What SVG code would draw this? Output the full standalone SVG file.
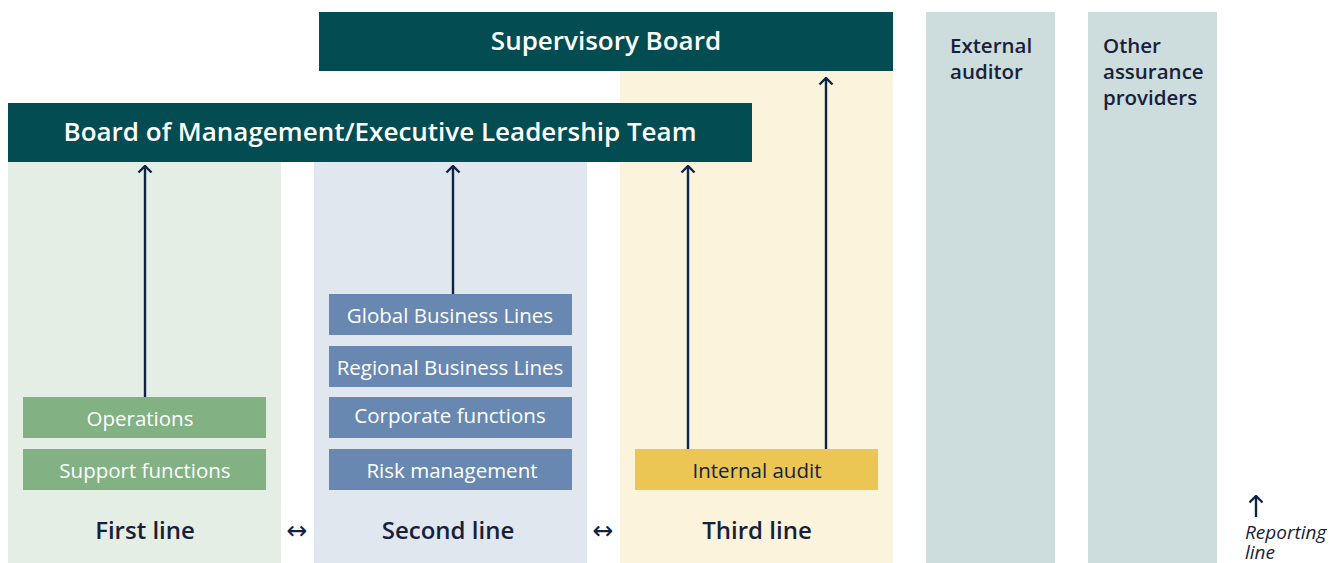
<svg xmlns="http://www.w3.org/2000/svg" width="1341" height="563" viewBox="0 0 1341 563">
<defs>
<marker id="ah" markerWidth="10" markerHeight="16" refX="8.5" refY="8" orient="auto" markerUnits="userSpaceOnUse" viewBox="0 0 10 16">
<path d="M2,1.5 L8.5,8 L2,14.5" fill="none" stroke="#0f2347" stroke-width="2.4"/>
</marker>
<style>
text{font-family:"Open Sans","Noto Sans",sans-serif}
.board{fill:#024c52}
.bt{fill:#fff;font-size:26px;font-weight:600;text-anchor:middle}
.g{fill:#82b183}
.b{fill:#6888b2}
.y{fill:#ecc655}
.bx{fill:#fff;font-size:20.5px;text-anchor:middle}
.lab{fill:#17213a;font-size:24px;font-weight:600;text-anchor:middle}
.side{fill:#cddddd}
.st{fill:#17213a;font-size:20.5px;font-weight:600}
.conn{stroke:#0f2347;stroke-width:2.4;fill:none}
.sym{fill:#0f2347;font-family:"DejaVu Sans",sans-serif;font-size:25px;text-anchor:middle}
.it{fill:#17213a;font-size:19px;font-style:italic}
</style>
</defs>
<rect width="1341" height="563" fill="#fff"/>
<g id="first-line">
<rect x="8" y="162" width="273" height="401" fill="#e5eee5"/>
<text class="lab" x="145" y="539">First line</text>
</g>
<g id="second-line">
<rect x="314" y="162" width="273" height="401" fill="#e0e7ef"/>
<text class="lab" x="448" y="539">Second line</text>
</g>
<g id="third-line">
<rect x="620" y="71" width="273" height="492" fill="#fcf3dc"/>
<text class="lab" x="757" y="539">Third line</text>
</g>
<g id="external-auditor">
<rect class="side" x="926" y="12" width="129" height="551"/>
<text class="st" x="950" y="53">External</text>
<text class="st" x="950" y="79">auditor</text>
</g>
<g id="other-assurance">
<rect class="side" x="1088" y="12" width="129" height="551"/>
<text class="st" x="1103" y="53">Other</text>
<text class="st" x="1103" y="79">assurance</text>
<text class="st" x="1103" y="105">providers</text>
</g>
<g id="supervisory-board">
<rect class="board" x="319" y="12" width="574" height="59"/>
<text class="bt" x="606" y="50">Supervisory Board</text>
</g>
<g id="board-of-management">
<rect class="board" x="8" y="103" width="744" height="59"/>
<text class="bt" x="380" y="141">Board of Management/Executive Leadership Team</text>
</g>
<g id="operations">
<rect class="g" x="23" y="397" width="243" height="41"/>
<text class="bx" x="140" y="426">Operations</text>
</g>
<g id="support-functions">
<rect class="g" x="23" y="449" width="243" height="41"/>
<text class="bx" x="145" y="478">Support functions</text>
</g>
<g id="global-business-lines">
<rect class="b" x="329" y="294" width="243" height="41"/>
<text class="bx" x="450" y="323">Global Business Lines</text>
</g>
<g id="regional-business-lines">
<rect class="b" x="329" y="346" width="243" height="41"/>
<text class="bx" x="450" y="375">Regional Business Lines</text>
</g>
<g id="corporate-functions">
<rect class="b" x="329" y="397" width="243" height="41"/>
<text class="bx" x="450" y="423">Corporate functions</text>
</g>
<g id="risk-management">
<rect class="b" x="329" y="449" width="243" height="41"/>
<text class="bx" x="452" y="478">Risk management</text>
</g>
<g id="internal-audit">
<rect class="y" x="635" y="449" width="243" height="41"/>
<text class="bx" x="757" y="478" style="fill:#17213a">Internal audit</text>
</g>
<g id="connectors">
<line class="conn" x1="145" y1="397" x2="145" y2="166" marker-end="url(#ah)"/>
<line class="conn" x1="453" y1="294" x2="453" y2="166" marker-end="url(#ah)"/>
<line class="conn" x1="688" y1="449" x2="688" y2="166" marker-end="url(#ah)"/>
<line class="conn" x1="826" y1="449" x2="826" y2="78" marker-end="url(#ah)"/>
<text class="sym" x="297" y="539">↔</text>
<text class="sym" x="603" y="539">↔</text>
</g>
<g id="legend">
<line class="conn" x1="1256" y1="517" x2="1256" y2="496" marker-end="url(#ah)"/>
<text class="it" x="1245" y="539">Reporting</text>
<text class="it" x="1245" y="559">line</text>
</g>
</svg>
